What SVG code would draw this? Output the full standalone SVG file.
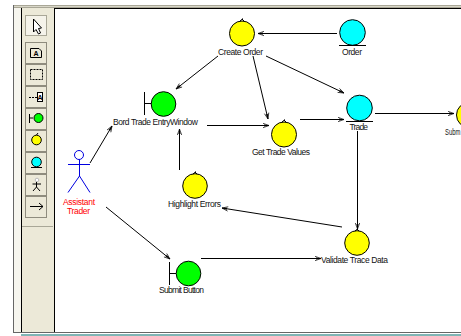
<svg xmlns="http://www.w3.org/2000/svg" width="461" height="336" viewBox="0 0 461 336">
<style>
text{font-family:"Liberation Sans",Arial,sans-serif;font-size:8.5px;fill:#111}
.c{stroke:#000;stroke-width:1;fill:none;marker-end:url(#a)}
.n{stroke:#000;stroke-width:1}
.y{fill:#ffff00}.g{fill:#00ff00}.b{fill:#00ffff}
.l{stroke:#000;stroke-width:1;fill:none}
.btn{fill:#ece9d8;stroke:#8f8c7e;stroke-width:1}
.ic{stroke:#000;stroke-width:1;fill:none}
.ia{font-size:7px;font-weight:bold;fill:#000}
</style>
<defs>
<marker id="a" markerUnits="userSpaceOnUse" markerWidth="10" markerHeight="8" refX="7" refY="3" orient="auto">
<path d="M1,0.800 L7,3 L1,5.200" fill="none" stroke="#000" stroke-width="0.700"/>
<path d="M2,2 L7,3 L2,4 Z" fill="#000"/>
</marker>
</defs>
<rect width="461" height="336" fill="#fff"/>
<g id="window">
<rect x="13" y="5" width="448" height="3" fill="#a9a797"/>
<rect x="13" y="6" width="448" height="1" fill="#d8d6c8"/>
<rect x="21" y="8" width="33" height="325" fill="#ece9d8"/>
<rect x="14" y="8" width="7" height="325" fill="#f6f5ee"/>
<path d="M21.500,8V333M54.500,8V333M54,8.500H461" stroke="#000" fill="none"/>
<path d="M13.500,5V333" stroke="#666" fill="none"/>
<path d="M13,332.500H461" stroke="#666" fill="none"/>
<rect x="21" y="334" width="440" height="2" fill="#7fb5b5"/>
<path d="M22,226.500H53" stroke="#a9a797" fill="none"/>
</g>
<g id="toolbar">
<rect x="25.500" y="15.500" width="21" height="20" fill="#f5f3ea" stroke="#a9a797"/>
<path d="M33.500,19V32L36,29.500L38.500,34L40.500,33L38.500,28.500L41.500,28Z" fill="#fff" stroke="#000"/>
<rect class="btn" x="25.500" y="42.500" width="21" height="21"/>
<rect class="btn" x="25.500" y="64.500" width="21" height="21"/>
<rect class="btn" x="25.500" y="86.500" width="21" height="21"/>
<rect class="btn" x="25.500" y="108.500" width="21" height="21"/>
<rect class="btn" x="25.500" y="130.500" width="21" height="21"/>
<rect class="btn" x="25.500" y="152.500" width="21" height="21"/>
<rect class="btn" x="25.500" y="174.500" width="21" height="21"/>
<rect class="btn" x="25.500" y="196.500" width="21" height="21"/>
<path class="ic" d="M30.500,48.500H39L41.500,51V57.500H30.500Z"/>
<text class="ia" x="33.500" y="56">A</text>
<rect x="30.500" y="69.500" width="12" height="10" fill="none" stroke="#000" stroke-dasharray="2 1"/>
<path class="ic" d="M29,97.500H37" stroke-dasharray="2 1"/>
<rect x="37.500" y="92.500" width="5" height="9" fill="#fff" stroke="#000"/>
<text class="ia" x="37.500" y="100">A</text>
<path class="ic" d="M29.500,114V123M29.500,118H33"/>
<circle cx="38.500" cy="118" r="4.500" fill="#00ff00" stroke="#000"/>
<circle cx="36.500" cy="140" r="4.800" fill="#ffff00" stroke="#000"/>
<path class="ic" d="M36.500,135L38,133"/>
<circle cx="36.500" cy="162" r="4.800" fill="#00ffff" stroke="#000"/>
<path class="ic" d="M31,167.500H42"/>
<circle cx="37" cy="180" r="1.800" fill="#fff" stroke="#bbb"/>
<path class="ic" d="M36.500,182V187M32.500,184H41M36.500,187L33,191M36.500,187L40,191"/>
<path class="ic" d="M30,206.500H43M39,203L43,206.500L39,210"/>
</g>
<g id="connectors">
<path class="c" d="M90,163L112,126"/>
<path class="c" d="M106,207L170,259"/>
<path class="c" d="M218,56L176,89"/>
<path class="c" d="M253,56L268,119"/>
<path class="c" d="M266,56L344,93"/>
<path class="c" d="M337,33.500L258,33.500"/>
<path class="c" d="M207,125.500L269,125.500"/>
<path class="c" d="M300,119.500L344,119.500"/>
<path class="c" d="M375,113.500L454,113.500"/>
<path class="c" d="M357.500,131L357.500,229"/>
<path class="c" d="M179.500,170L179.500,129"/>
<path class="c" d="M342,227L222,208"/>
<path class="c" d="M201,258.500L321,258.500"/>
</g>
<g id="create-order">
<circle class="n y" cx="242" cy="33.500" r="12.500"/><path class="l" d="M240,21L243,18.500M242,19L244,21"/>
<text x="218" y="54.500" textLength="45">Create Order</text>
</g>
<g id="order">
<circle class="n b" cx="352.500" cy="32.500" r="12.800"/><path class="l" d="M339,45.500H366"/>
<text x="342" y="54.500" textLength="20">Order</text>
</g>
<g id="trade">
<circle class="n b" cx="359.500" cy="108" r="12.800"/><path class="l" d="M346,121.500H373"/>
<text x="349.500" y="130" textLength="18.500">Trade</text>
</g>
<g id="bord-trade-entry-window">
<circle class="n g" cx="163.500" cy="104" r="12.300"/><path class="l" d="M144.500,92V115M144.500,103.500H151"/>
<text x="113" y="124.500" textLength="85">Bord Trade EntryWindow</text>
</g>
<g id="get-trade-values">
<circle class="n y" cx="284" cy="134.500" r="12.500"/><path class="l" d="M282,122L285,119.500M284,120L286,122"/>
<text x="252" y="155" textLength="58">Get Trade Values</text>
</g>
<g id="submit-partial">
<circle class="n y" cx="469" cy="115" r="12.500"/>
<text x="445" y="135" textLength="15.500" lengthAdjust="spacingAndGlyphs">Subm</text>
</g>
<g id="highlight-errors">
<circle class="n y" cx="195" cy="186" r="12.300"/><path class="l" d="M193,174L196,171.500M195,172L197,174"/>
<text x="168" y="207" textLength="53">Highlight Errors</text>
</g>
<g id="submit-button">
<circle class="n g" cx="188.500" cy="273.500" r="12.300"/><path class="l" d="M169.500,262V285M169.500,273.500H176"/>
<text x="159" y="293" textLength="45">Submit Button</text>
</g>
<g id="validate-trace-data">
<circle class="n y" cx="357" cy="243" r="12.300"/><path class="l" d="M355,231L358,228.500M357,229L359,231"/>
<text x="321" y="263" textLength="67">Validate Trace Data</text>
</g>
<g id="assistant-trader">
<circle cx="79" cy="155" r="4.500" fill="#fff" stroke="#0000e0"/>
<path d="M68,164.500H90M79.500,159.500V176M79.500,176L68,192.500M79.500,176L90,192.500" fill="none" stroke="#0000e0"/>
<text x="63" y="205" textLength="32" style="fill:#ff0000">Assistant</text>
<text x="67" y="214" textLength="23" style="fill:#ff0000">Trader</text>
</g>
</svg>
